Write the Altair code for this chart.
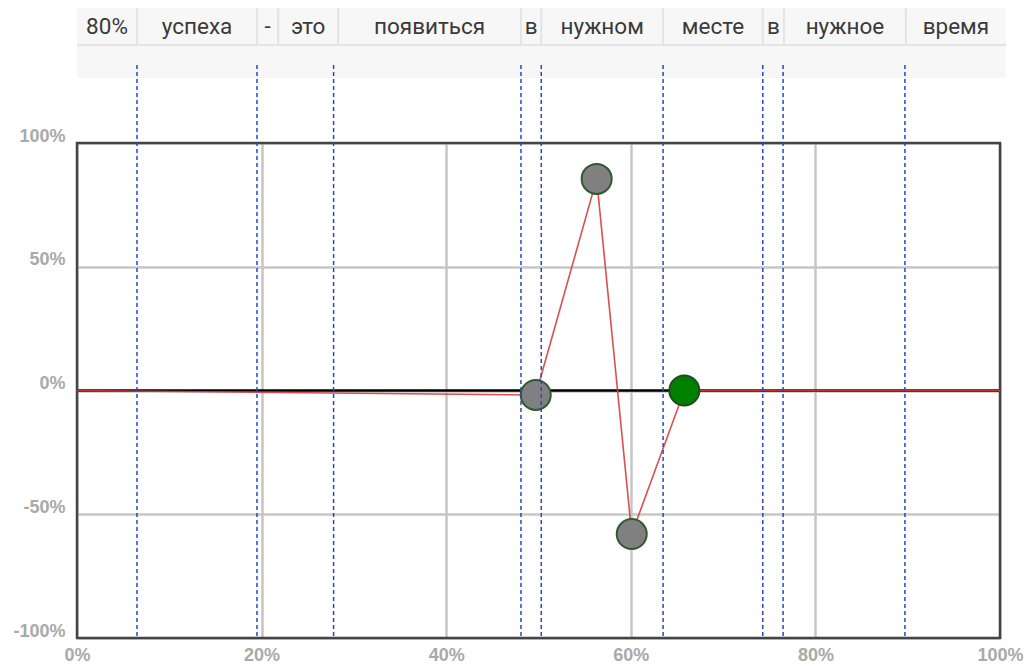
import altair as alt
import pandas as pd

# ---- data (x and y in percent) ----
line_x = [0.0, 49.7, 56.3, 60.1, 65.8, 100.0]
line_y = [0.0, -1.8, 85.5, -58.0, 0.0, 0.0]

point_x = [49.7, 56.3, 60.1, 65.8]
point_y = [-1.8, 85.5, -58.0, 0.0]
point_kind = ["other", "other", "other", "current"]

tokens = ["80%", "успеха", "-", "это", "появиться", "в", "нужном", "месте", "в", "нужное", "время"]
token_edges = [0.0, 6.5, 19.5, 21.8, 28.3, 48.1, 50.3, 63.5, 74.3, 76.6, 89.8, 100.65]
boundary_x = [6.5, 19.5, 27.8, 48.1, 50.3, 63.5, 74.3, 76.5, 89.7]

x_ticks = [0, 20, 40, 60, 80, 100]
y_ticks = [-100, -50, 0, 50, 100]
x_domain = [0, 100]
y_domain = [-100, 100]

# table band levels (in y-axis units, above the plot)
row1_top, row_mid, row2_bottom, text_y = 154.5, 139.6, 126.3, 147.0
dash_top = 131.5

xs = alt.Scale(domain=x_domain, nice=False, zero=False)
ys = alt.Scale(domain=y_domain, nice=False, zero=False)

line_df = pd.DataFrame({"x": line_x, "y": line_y})
pt_df = pd.DataFrame({"x": point_x, "y": point_y, "kind": point_kind})
tok_df = pd.DataFrame({
    "token": tokens,
    "x0": token_edges[:-1],
    "x1": token_edges[1:],
})
tok_df["xm"] = (tok_df["x0"] + tok_df["x1"]) / 2
tok_df["ty"] = text_y
inner_df = pd.DataFrame({"x": token_edges[1:-1], "y0": row_mid, "y1": row1_top})
band_df = pd.DataFrame({"x0": [token_edges[0]], "x1": [token_edges[-1]],
                        "y0": [row2_bottom], "y1": [row1_top], "ym": [row_mid]})
dash_df = pd.DataFrame({"x": boundary_x, "y0": dash_top, "y1": y_domain[0]})
zero_df = pd.DataFrame({"x0": [x_domain[0]], "x1": [x_domain[1]], "y": [0]})
frame_df = pd.DataFrame({"x0": [x_domain[0]], "x1": [x_domain[1]],
                         "y0": [y_domain[0]], "y1": [y_domain[1]]})

label_style = dict(labelFont="Liberation Sans", labelFontWeight="bold", labelFontSize=18,
                   labelColor="#a9a9a9", ticks=False, domain=False, grid=True,
                   gridColor="#c6c6c6", gridWidth=2.5, title=None, labelFlush=False)
xa = alt.Axis(values=x_ticks, labelExpr="datum.value + '%'", labelPadding=8, **label_style)
ya = alt.Axis(values=y_ticks, labelExpr="datum.value + '%'", labelPadding=12,
              labelBaseline="bottom", labelOffset=2, **label_style)


def X(f):
    return alt.X(f, scale=xs, axis=xa, title=None)


def Y(f):
    return alt.Y(f, scale=ys, axis=ya, title=None)


band = alt.Chart(band_df).mark_rect(fill="#f7f7f7").encode(
    x=X("x0:Q"), x2="x1:Q", y=Y("y0:Q"), y2="y1:Q")
band_line = alt.Chart(band_df).mark_rule(color="#e4e4e4", strokeWidth=2).encode(
    x=X("x0:Q"), x2="x1:Q", y=Y("ym:Q"))
cell_lines = alt.Chart(inner_df).mark_rule(color="#e4e4e4", strokeWidth=2).encode(
    x=X("x:Q"), y=Y("y0:Q"), y2="y1:Q")
tok_text = alt.Chart(tok_df).mark_text(font="Roboto", fontSize=22.5, color="#3a3a3a",
                                      align="center", baseline="middle").encode(
    x=X("xm:Q"), y=Y("ty:Q"), text="token:N")

zero = alt.Chart(zero_df).mark_rule(color="#000000", strokeWidth=2.5).encode(
    x=X("x0:Q"), x2="x1:Q", y=Y("y:Q"))

frame = alt.Chart(frame_df).mark_rect(filled=False, stroke="#444444", strokeWidth=2.5,
                                      fillOpacity=0).encode(
    x=X("x0:Q"), x2="x1:Q", y=Y("y0:Q"), y2="y1:Q")

line = alt.Chart(line_df).mark_line(color="#d63c3c", strokeWidth=1.6, opacity=0.9).encode(
    x=X("x:Q"), y=Y("y:Q"))

points = alt.Chart(pt_df).mark_point(filled=True, size=900, strokeWidth=2, opacity=1).encode(
    x=X("x:Q"), y=Y("y:Q"),
    fill=alt.Fill("kind:N", scale=alt.Scale(domain=["other", "current"],
                                           range=["#808080", "#008000"]), legend=None),
    stroke=alt.Stroke("kind:N", scale=alt.Scale(domain=["other", "current"],
                                               range=["#2f5a2f", "#1d4d1d"]), legend=None),
    shape=alt.value("circle"))

dashes = alt.Chart(dash_df).mark_rule(color="#2a45c8", strokeWidth=1.5,
                                      strokeDash=[4, 3]).encode(
    x=X("x:Q"), y=Y("y0:Q"), y2="y1:Q")

chart = alt.layer(band, band_line, cell_lines, tok_text, zero, frame, line, points,
                  dashes).properties(
    width=923, height=495,
    padding={"left": 69, "top": 135, "right": 25, "bottom": 26},
    autosize="none",
    background="white",
).configure_view(stroke=None)

chart.save("out.html", embed_options={"renderer": "svg", "actions": False})
